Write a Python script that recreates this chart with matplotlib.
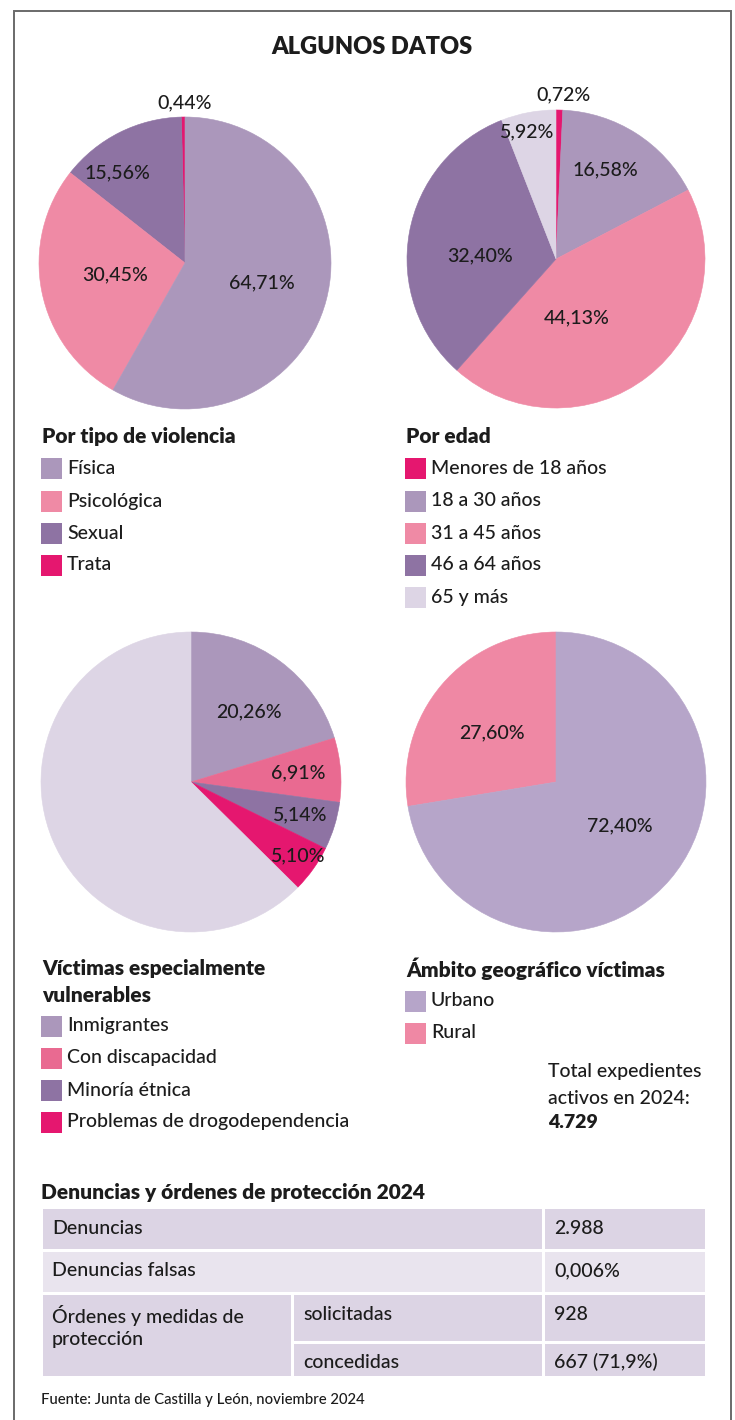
import matplotlib
matplotlib.use("Agg")
import matplotlib.pyplot as plt
from matplotlib.patches import Rectangle

plt.rcParams['font.family'] = ['Lato', 'DejaVu Sans']

W, H = 735, 1420

# ---------------- data ----------------
violencia_labels = ["Trata", "Sexual", "Psicológica", "Física"]
violencia_values = [0.44, 15.56, 30.45, 64.71]
violencia_text = ["0,44%", "15,56%", "30,45%", "64,71%"]

edad_labels = ["Menores de 18 años", "18 a 30 años", "31 a 45 años", "46 a 64 años", "65 y más"]
edad_values = [0.72, 16.58, 44.13, 32.40, 5.92]
edad_text = ["0,72%", "16,58%", "44,13%", "32,40%", "5,92%"]

vulnerables_labels = ["Inmigrantes", "Con discapacidad", "Minoría étnica",
                      "Problemas de drogodependencia", "Resto"]
vulnerables_values = [20.26, 6.91, 5.14, 5.10, 62.59]
vulnerables_text = ["20,26%", "6,91%", "5,14%", "5,10%", ""]

ambito_labels = ["Rural", "Urbano"]
ambito_values = [27.60, 72.40]
ambito_text = ["27,60%", "72,40%"]

total_expedientes = "4.729"

tabla_titulo = "Denuncias y órdenes de protección 2024"
tabla_filas = ["Denuncias", "Denuncias falsas", "Órdenes y medidas de\nprotección"]
tabla_sub = ["solicitadas", "concedidas"]
tabla_valores = ["2.988", "0,006%", "928", "667 (71,9%)"]
fuente = "Fuente: Junta de Castilla y León, noviembre 2024"

# ---------------- colours ----------------
C_LILA = "#ab97bb"
C_ROSA = "#ef8aa5"
C_MORADO = "#8e73a3"
C_MAGENTA = "#e5176f"
C_PALIDO = "#ddd5e5"
C_ROSA2 = "#e96a91"
C_URB = "#b6a5c9"
C_RUR = "#ef88a4"
TXT = "#1c1c1c"

FS = 14
FW = "medium"

fig = plt.figure(figsize=(W / 100, H / 100), dpi=100)


def fx(x):
    return x / W


def fy(y):
    return 1 - y / H


# frame
fig.patches.append(Rectangle((fx(14), fy(1440)), fx(731) - fx(14), fy(11) - fy(1440),
                             transform=fig.transFigure, fill=False,
                             edgecolor="#6a6a6a", linewidth=1.4))

fig.text(fx(372), fy(47), "ALGUNOS DATOS", ha="center", va="center",
         fontsize=17, fontweight="heavy", color=TXT)


def pie(cx, cy, R, values, colors, texts, pos, counterclock):
    ax = fig.add_axes([fx(cx - R), fy(cy + R), 2 * R / W, 2 * R / H])
    wedges, _ = ax.pie(values, colors=colors, startangle=90, counterclock=counterclock,
                       radius=1, wedgeprops=dict(linewidth=0.4))
    for w in wedges:
        w.set_edgecolor(w.get_facecolor())
    ax.set_xlim(-1, 1)
    ax.set_ylim(-1, 1)
    ax.set_aspect("equal")
    ax.axis("off")
    for t, (px, py) in zip(texts, pos):
        if t:
            ax.text(px, py, t, ha="center", va="center", fontsize=FS,
                    fontweight=FW, color=TXT, clip_on=False)


pie(185, 263, 146, violencia_values, [C_MAGENTA, C_MORADO, C_ROSA, C_LILA],
    violencia_text, [(0.0, 1.10), (-0.466, 0.616), (-0.479, -0.082), (0.527, -0.137)],
    counterclock=True)

pie(556, 259, 149, edad_values, [C_MAGENTA, C_LILA, C_ROSA, C_MORADO, C_PALIDO],
    edad_text, [(0.047, 1.10), (0.329, 0.597), (0.141, -0.396), (-0.51, 0.02), (-0.195, 0.852)],
    counterclock=False)

pie(191, 782, 150, vulnerables_values, [C_LILA, C_ROSA2, C_MORADO, C_MAGENTA, C_PALIDO],
    vulnerables_text, [(0.387, 0.467), (0.713, 0.06), (0.727, -0.22), (0.713, -0.493), (0, 0)],
    counterclock=False)

pie(556, 782, 150, ambito_values, [C_RUR, C_URB],
    ambito_text, [(-0.427, 0.327), (0.427, -0.293)], counterclock=True)


def legend(x, y_head, heads, items, colors, y0, step=32):
    for i, h in enumerate(heads):
        fig.text(fx(x), fy(y_head + i * 27), h, ha="left", va="center",
                 fontsize=15, fontweight="heavy", color=TXT)
    for i, (lab, c) in enumerate(zip(items, colors)):
        yc = y0 + i * step
        fig.patches.append(Rectangle((fx(x - 1), fy(yc + 10.5)), 21 / W, 21 / H,
                                     transform=fig.transFigure, facecolor=c,
                                     edgecolor="none"))
        fig.text(fx(x + 25), fy(yc), lab, ha="left", va="center",
                 fontsize=FS, fontweight=FW, color=TXT)


legend(42, 437, ["Por tipo de violencia"],
       ["Física", "Psicológica", "Sexual", "Trata"],
       [C_LILA, C_ROSA, C_MORADO, C_MAGENTA], 469)

legend(406, 437, ["Por edad"], edad_labels,
       [C_MAGENTA, C_LILA, C_ROSA, C_MORADO, C_PALIDO], 469)

legend(42, 969, ["Víctimas especialmente", "vulnerables"],
       vulnerables_labels[:4], [C_LILA, C_ROSA2, C_MORADO, C_MAGENTA], 1026)

legend(406, 969, ["Ámbito geográfico víctimas"],
       ["Urbano", "Rural"], [C_URB, C_RUR], 1001)

fig.text(fx(548), fy(1072), "Total expedientes", ha="left", va="center",
         fontsize=FS, fontweight=FW, color=TXT)
fig.text(fx(548), fy(1098), "activos en 2024:", ha="left", va="center",
         fontsize=FS, fontweight=FW, color=TXT)
fig.text(fx(548), fy(1123), total_expedientes, ha="left", va="center",
         fontsize=FS, fontweight="heavy", color=TXT)

# ---------------- table ----------------
fig.text(fx(41), fy(1192), tabla_titulo, ha="left", va="center",
         fontsize=15, fontweight="heavy", color=TXT)

cols = [41, 292, 543, 706]
rows = [1207, 1250, 1293, 1342, 1377]
g = 1.5
dark = "#dcd4e4"
light = "#e9e4ee"


def cell(x0, x1, y0, y1, color):
    fig.patches.append(Rectangle((fx(x0 + g), fy(y1 - g)), (x1 - x0 - 2 * g) / W,
                                 (y1 - y0 - 2 * g) / H, transform=fig.transFigure,
                                 facecolor=color, edgecolor="none"))


cell(cols[0], cols[2], rows[0], rows[1], dark)
cell(cols[2], cols[3], rows[0], rows[1], dark)
cell(cols[0], cols[2], rows[1], rows[2], light)
cell(cols[2], cols[3], rows[1], rows[2], light)
cell(cols[0], cols[1], rows[2], rows[4], dark)
cell(cols[1], cols[2], rows[2], rows[3], dark)
cell(cols[2], cols[3], rows[2], rows[3], dark)
cell(cols[1], cols[2], rows[3], rows[4], dark)
cell(cols[2], cols[3], rows[3], rows[4], dark)

tfs = 14
pad = 11
text_y = [1228, 1271, 1315, 1362]
for i in range(2):
    fig.text(fx(cols[0] + pad), fy(text_y[i]), tabla_filas[i], ha="left", va="center",
             fontsize=tfs, fontweight=FW, color=TXT)
    fig.text(fx(cols[2] + pad), fy(text_y[i]), tabla_valores[i], ha="left", va="center",
             fontsize=tfs, fontweight=FW, color=TXT)
for k, line in enumerate(tabla_filas[2].split("\n")):
    fig.text(fx(cols[0] + pad), fy(1315 + 25 * k), line, ha="left", va="center",
             fontsize=tfs, fontweight=FW, color=TXT)
for j in range(2):
    fig.text(fx(cols[1] + pad), fy(text_y[2 + j]), tabla_sub[j], ha="left", va="center",
             fontsize=tfs, fontweight=FW, color=TXT)
    fig.text(fx(cols[2] + pad), fy(text_y[2 + j]), tabla_valores[2 + j], ha="left",
             va="center", fontsize=tfs, fontweight=FW, color=TXT)

fig.text(fx(41), fy(1400), fuente, ha="left", va="center", fontsize=10.7,
         fontweight=FW, color=TXT)

fig.savefig("out.png", dpi=100, facecolor="white")
